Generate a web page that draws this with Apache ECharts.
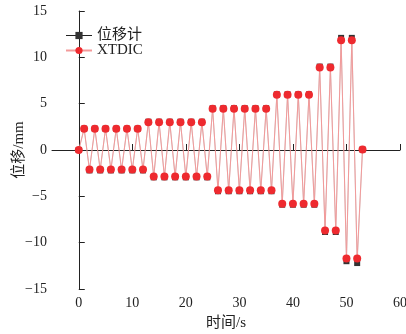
<!DOCTYPE html>
<html>
<head>
<meta charset="utf-8">
<script src="https://cdn.jsdelivr.net/npm/echarts@6/dist/echarts.min.js"></script>
<style>
  html, body { margin: 0; padding: 0; background: #fff; }
  #chart { width: 406px; height: 334px; }
</style>
</head>
<body>
<div id="chart"></div>
<script>
// time (s)
var timeS = [0, 1, 2, 3, 4, 5, 6, 7, 8, 9, 10, 11, 12, 13, 14, 15, 16, 17, 18, 19,
  20, 21, 22, 23, 24, 25, 26, 27, 28, 29, 30, 31, 32, 33, 34, 35, 36, 37, 38, 39,
  40, 41, 42, 43, 44, 45, 46, 47, 48, 49, 50, 51, 52, 53];

// 位移计 (mm)
var gaugeMm = [0, 2.3, -2.2, 2.3, -2.2, 2.3, -2.2, 2.3, -2.2, 2.3, -2.2, 2.3, -2.2,
  3.05, -2.95, 3.05, -2.95, 3.05, -2.95, 3.05, -2.95, 3.05, -2.95, 3.05, -2.95,
  4.5, -4.45, 4.5, -4.45, 4.5, -4.45, 4.5, -4.45, 4.5, -4.45, 4.5, -4.45,
  6.0, -5.9, 6.0, -5.9, 6.0, -5.9, 6.0, -5.9,
  9.0, -8.85, 9.0, -8.85,
  12.1, -12.0, 12.1, -12.2, 0.05];

// XTDIC (mm)
var dicMm = [0, 2.3, -2.1, 2.3, -2.1, 2.3, -2.1, 2.3, -2.1, 2.3, -2.1, 2.3, -2.1,
  3.0, -2.85, 3.0, -2.85, 3.0, -2.85, 3.0, -2.85, 3.0, -2.85, 3.0, -2.85,
  4.45, -4.35, 4.45, -4.35, 4.45, -4.35, 4.45, -4.35, 4.45, -4.35, 4.45, -4.35,
  5.95, -5.8, 5.95, -5.8, 5.95, -5.8, 5.95, -5.8,
  8.9, -8.7, 8.9, -8.7,
  11.85, -11.7, 11.85, -11.7, 0.05];

var xTicks = [0, 10, 20, 30, 40, 50, 60];

var serif = '"Liberation Serif", "Noto Sans CJK SC", serif';

function pairs(xs, ys) {
  return xs.map(function (x, i) { return [x, ys[i]]; });
}

var myChart = echarts.init(document.getElementById('chart'), null, { renderer: 'canvas' });

var option = {
  animation: false,
  backgroundColor: '#fff',
  grid: { left: 52, right: 6, top: 11, bottom: 45, containLabel: false, outerBoundsMode: 'none' },
  legend: {
    left: 60,
    top: 23,
    orient: 'vertical',
    itemWidth: 26,
    itemHeight: 9,
    itemGap: 0,
    textStyle: { fontFamily: serif, fontSize: 15, color: '#222' },
    data: [
      { name: '位移计', lineStyle: { color: '#222', width: 1, opacity: 1 } },
      { name: 'XTDIC' }
    ]
  },
  xAxis: {
    type: 'value',
    min: -5,
    max: 60,
    name: '时间/s',
    nameLocation: 'middle',
    nameGap: 27,
    nameMoveOverlap: false,
    nameTextStyle: { fontFamily: serif, fontSize: 15, color: '#222' },
    splitLine: { show: false },
    axisLine: { lineStyle: { color: '#222', width: 1 } },
    axisTick: { inside: true, length: 6, customValues: xTicks, lineStyle: { color: '#222' } },
    axisLabel: { customValues: xTicks, margin: 7, fontFamily: serif, fontSize: 14, color: '#222' }
  },
  yAxis: {
    type: 'value',
    min: -15,
    max: 15,
    interval: 5,
    name: '位移/mm',
    nameLocation: 'middle',
    nameGap: 25,
    nameMoveOverlap: false,
    nameTextStyle: { fontFamily: serif, fontSize: 15, color: '#222' },
    splitLine: { show: false },
    axisLine: { show: true, lineStyle: { color: '#222', width: 1 } },
    axisTick: { show: true, inside: true, length: 6, lineStyle: { color: '#222' } },
    axisLabel: {
      margin: 5,
      fontFamily: serif,
      fontSize: 14,
      color: '#222',
      formatter: function (v) { return String(v).replace('-', '\u2212'); }
    }
  },
  series: [
    {
      name: '位移计',
      type: 'line',
      data: pairs(timeS, gaugeMm),
      symbol: 'rect',
      symbolSize: 6,
      itemStyle: { color: '#333' },
      lineStyle: { color: '#444', width: 0.5, opacity: 0.5 },
      z: 2
    },
    {
      name: 'XTDIC',
      type: 'line',
      data: pairs(timeS, dicMm),
      symbol: 'circle',
      symbolSize: 8,
      itemStyle: { color: '#ee2a2f' },
      lineStyle: { color: '#f39a9a', width: 1 },
      z: 3
    }
  ]
};

myChart.setOption(option);
</script>
</body>
</html>
